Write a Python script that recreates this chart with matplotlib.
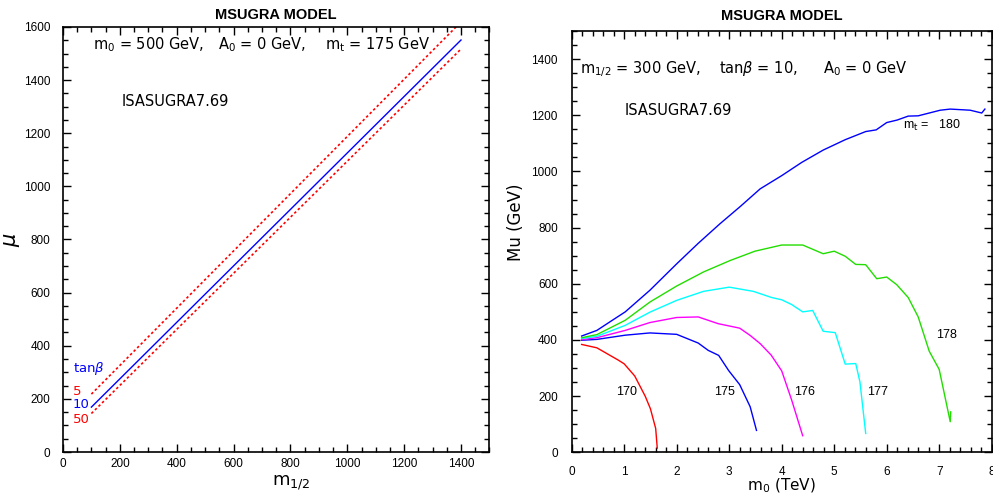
import matplotlib
matplotlib.use("Agg")
import matplotlib.pyplot as plt
from matplotlib.ticker import MultipleLocator

plt.rcParams["font.family"] = ["DejaVu Sans"]
plt.rcParams["mathtext.fontset"] = "dejavusans"

# left panel: mu vs m_1/2 for three tan(beta) values
m_half = [100, 1400]
mu_tb5 = [218, 1619]
mu_tb10 = [169, 1551]
mu_tb50 = [145, 1517]

# right panel: Mu vs m0 for several top masses
m0_170 = [0.19, 0.48, 0.89, 1.0, 1.2, 1.4, 1.5, 1.6, 1.63]
mu_170 = [384, 372, 328, 315, 272, 200, 155, 85, 15]

m0_175 = [0.19, 0.48, 1.02, 1.49, 2.0, 2.41, 2.6, 2.8, 2.99, 3.2, 3.4, 3.52]
mu_175 = [399, 402, 417, 425, 420, 389, 363, 345, 291, 241, 162, 78]

m0_176 = [0.19, 0.48, 1.02, 1.49, 2.0, 2.41, 2.79, 3.2, 3.4, 3.59, 3.8, 4.0, 4.19, 4.4]
mu_176 = [401, 408, 434, 462, 480, 482, 458, 442, 416, 387, 346, 290, 186, 59]

m0_177 = [0.19, 0.48, 1.02, 1.49, 2.0, 2.51, 3.0, 3.46, 3.81, 4.0, 4.19, 4.4, 4.59,
          4.79, 5.02, 5.21, 5.41, 5.49, 5.6]
mu_177 = [405, 413, 452, 499, 541, 573, 588, 573, 551, 543, 526, 500, 505,
          431, 426, 314, 316, 251, 67]

m0_178 = [0.19, 0.48, 1.02, 1.49, 2.0, 2.51, 3.02, 3.49, 4.0, 4.4, 4.79, 5.0, 5.21,
          5.41, 5.6, 5.81, 6.0, 6.19, 6.41, 6.6, 6.81, 7.0, 7.21, 7.22]
mu_178 = [408, 419, 470, 535, 592, 642, 683, 716, 738, 738, 707, 716, 698,
          669, 668, 618, 624, 597, 551, 482, 360, 295, 109, 144]

m0_180 = [0.19, 0.48, 0.79, 1.02, 1.49, 2.0, 2.41, 2.82, 3.21, 3.59, 4.0, 4.38, 4.79,
          5.21, 5.6, 5.8, 6.0, 6.2, 6.41, 6.6, 7.02, 7.21, 7.59, 7.81, 7.87]
mu_180 = [414, 434, 472, 500, 577, 671, 744, 813, 875, 938, 985, 1032, 1076,
          1113, 1142, 1148, 1174, 1183, 1197, 1198, 1218, 1222, 1218, 1208, 1222]

curves = [
    (m0_170, mu_170, "red", "170", 1.04, 215),
    (m0_175, mu_175, "blue", "175", 2.91, 215),
    (m0_176, mu_176, "magenta", "176", 4.43, 215),
    (m0_177, mu_177, "cyan", "177", 5.83, 215),
    (m0_178, mu_178, "#22dd00", "178", 7.14, 417),
    (m0_180, mu_180, "blue", None, None, None),
]

HELV = "Liberation Sans"

fig = plt.figure(figsize=(9.93, 4.96), dpi=100)
ax1 = fig.add_axes([0.0634, 0.0887, 0.4295, 0.8569])
ax2 = fig.add_axes([0.5757, 0.0881, 0.4230, 0.8494])


def style_axes(ax, major_x, minor_x, major_y, minor_y, xpad, ypad):
    ax.xaxis.set_major_locator(MultipleLocator(major_x))
    ax.xaxis.set_minor_locator(MultipleLocator(minor_x))
    ax.yaxis.set_major_locator(MultipleLocator(major_y))
    ax.yaxis.set_minor_locator(MultipleLocator(minor_y))
    ax.tick_params(which="both", direction="in", top=True, right=True, width=1.0)
    ax.tick_params(which="major", length=6)
    ax.tick_params(which="minor", length=3.5)
    ax.tick_params(axis="x", pad=xpad)
    ax.tick_params(axis="y", pad=ypad)
    for lab in ax.get_xticklabels() + ax.get_yticklabels():
        lab.set_fontfamily(HELV)
        lab.set_fontsize(8.5)
    for sp in ax.spines.values():
        sp.set_linewidth(1.2)


# left panel
ax1.plot(m_half, mu_tb5, color="red", linestyle=(0, (1.5, 1.5)), lw=1.2)
ax1.plot(m_half, mu_tb10, color="blue", lw=1.0)
ax1.plot(m_half, mu_tb50, color="red", linestyle=(0, (1.5, 1.5)), lw=1.2)
ax1.set_xlim(0, 1500)
ax1.set_ylim(0, 1600)
style_axes(ax1, 200, 50, 200, 50, 4, 9)
ax1.set_title("MSUGRA MODEL", fontsize=10.5, fontweight="bold", pad=6, family=HELV)
ax1.text(106, 1532, r"m$_0$ = 500 GeV,", fontsize=10.5, va="center")
ax1.text(546, 1532, r"A$_0$ = 0 GeV,", fontsize=10.5, va="center")
ax1.text(923, 1532, r"m$_\mathrm{t}$ = 175 GeV", fontsize=10.5, va="center")
ax1.text(208, 1320, "ISASUGRA7.69", fontsize=10.5, va="center")
ax1.text(35, 316, r"tan$\beta$", color="blue", fontsize=9.5, va="center")
ax1.text(35, 226, "5", color="red", fontsize=9.5, va="center")
ax1.text(35, 177, "10", color="blue", fontsize=9.5, va="center")
ax1.text(35, 124, "50", color="red", fontsize=9.5, va="center")
ax1.set_xlabel(r"m$_{1/2}$", fontsize=13)
ax1.xaxis.set_label_coords(0.535, -0.05)
ax1.set_ylabel(r"$\mu$", fontsize=15, rotation=90)
ax1.yaxis.set_label_coords(-0.097, 0.5)

# right panel
for xs, ys, col, lab, lx, ly in curves:
    ax2.plot(xs, ys, color=col, lw=1.0)
    if lab is not None:
        ax2.text(lx, ly, lab, fontsize=9, ha="center", va="center", family=HELV)
ax2.text(6.31, 1163, r"m$_\mathrm{t}$ =   180", fontsize=9, va="center", family=HELV)
ax2.set_xlim(0, 8)
ax2.set_ylim(0, 1500)
style_axes(ax2, 1, 0.2, 200, 50, 10, 10)
ax2.set_title("MSUGRA MODEL", fontsize=10.5, fontweight="bold", pad=8, family=HELV)
ax2.text(0.16, 1365, r"m$_{1/2}$ = 300 GeV,", fontsize=10.5, va="center")
ax2.text(2.81, 1365, r"tan$\beta$ = 10,", fontsize=10.5, va="center")
ax2.text(4.79, 1365, r"A$_0$ = 0 GeV", fontsize=10.5, va="center")
ax2.text(1.0, 1216, "ISASUGRA7.69", fontsize=10.5, va="center")
ax2.set_xlabel(r"m$_0$ (TeV)", fontsize=11)
ax2.xaxis.set_label_coords(0.5, -0.058)
ax2.set_ylabel("Mu (GeV)", fontsize=12)
ax2.yaxis.set_label_coords(-0.111, 0.545)

fig.savefig("out.png", dpi=100)
